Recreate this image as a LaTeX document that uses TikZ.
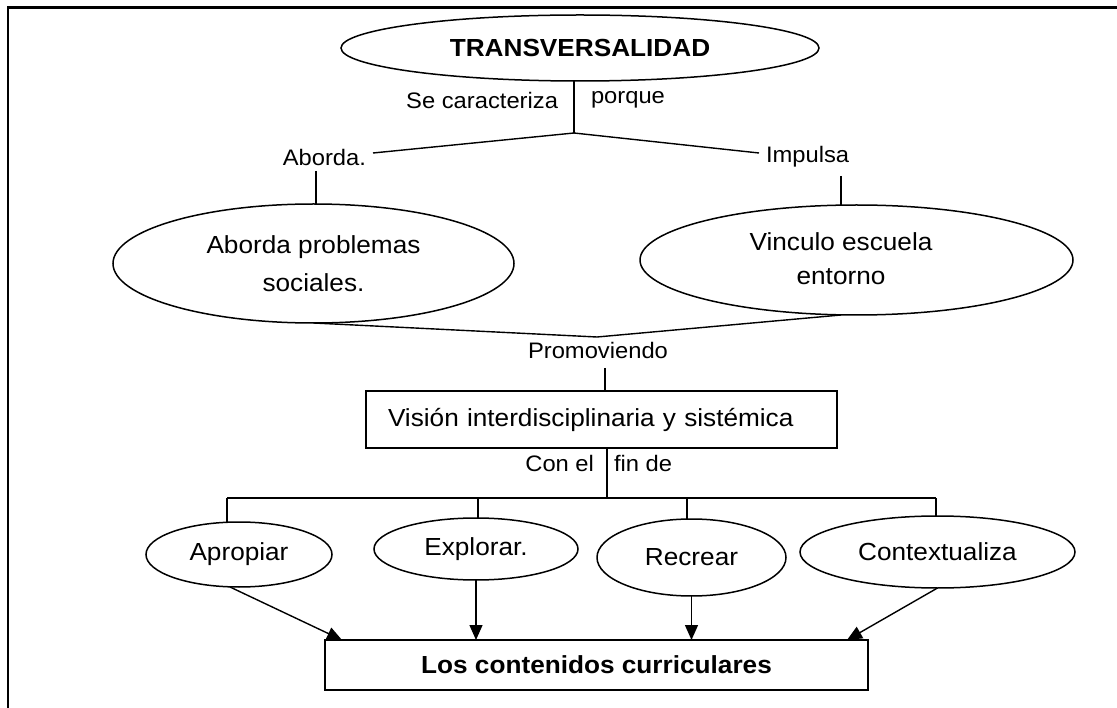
\documentclass[tikz,border=0pt]{standalone}
\usepackage{fontspec}
\setmainfont{Liberation Sans}[FakeStretch=1.06]
\usetikzlibrary{shapes.geometric,arrows.meta}
\begin{document}
\begin{tikzpicture}[x=1pt,y=-1pt,
  every node/.style={inner sep=0pt, outer sep=0pt},
  oval/.style={draw, ellipse, line width=1.5pt, inner sep=0pt},
  rbox/.style={draw, rectangle, line width=1.5pt},
  lbl/.style={font=\fontsize{22.4}{26}\selectfont},
  main/.style={font=\fontsize{24.7}{29}\selectfont},
  mainb/.style={font=\fontsize{24.7}{29}\selectfont\bfseries},
  conn/.style={line width=1.4pt},
  arr/.style={line width=1.4pt, -{Triangle[length=15pt,width=13pt]}},
]
\useasboundingbox (0,0) rectangle (1117,708);
\draw[line width=2.2pt] (1117,7.5) -- (8,7.5) -- (8,708);

% top
\node[oval, mainb, minimum width=478, minimum height=66] (T) at (580,48) {TRANSVERSALIDAD};
\coordinate (j1) at (574,133);
\draw[conn] (j1 |- T.south) -- (j1);
\node[lbl, anchor=east] (sc) at (558,100) {Se caracteriza};
\node[lbl, anchor=west] (pq) at (591,100) {porque};
\node[lbl, anchor=east] (ab) at (366,157) {Aborda.};
\node[lbl, anchor=west] (im) at (766,157) {Impulsa};
\coordinate (abR) at (373,153);
\coordinate (imL) at (759,153);
\draw[conn] (abR) -- (j1) -- (imL);

% second level
\node[oval, align=center, font=\fontsize{24.7}{38}\selectfont, minimum width=401, minimum height=119] (A) at (313.5,263.5) {Aborda problemas\\sociales.};
\node[oval, minimum width=433, minimum height=110] (V) at (856.5,260) {};
\node[align=center, font=\fontsize{24.7}{34}\selectfont] (Vt) at (841,259) {Vinculo escuela\\entorno};
\coordinate (atop) at (316,171);
\coordinate (vtop) at (841,176);
\draw[conn] (atop) -- (atop |- A.north);
\draw[conn] (vtop) -- (vtop |- V.north);

\coordinate (jP) at (597,337);
\draw[conn] (A.south) -- (jP) -- (Vt |- V.south);
\node[lbl] (pr) at (598,350) {Promoviendo};

% box
\node[rbox, main, anchor=west, minimum height=57, inner xsep=22pt, text width=427pt] (B) at (366,419.5) {Visión interdisciplinaria y sistémica};
\coordinate (p2) at (605,368);
\draw[conn] (p2) -- (p2 |- B.north);
\coordinate (c1) at (607,498);
\draw[conn] (B.south -| c1) -- (c1);
\node[lbl, anchor=east] (ce) at (594,463) {Con el};
\node[lbl, anchor=west] (fd) at (614,463) {fin de};

% bottom ellipses
\node[oval, main, minimum width=186, minimum height=65] (Ap) at (239,554.5) {Apropiar};
\node[oval, main, minimum width=204, minimum height=62] (Ex) at (476,549) {Explorar.};
\node[oval, main, minimum width=189, minimum height=77] (Re) at (691.5,557.5) {Recrear};
\node[oval, main, minimum width=275, minimum height=72] (Co) at (937.5,552) {Contextualiza};

\coordinate (bL) at (227,498);
\coordinate (t2) at (478,498);
\coordinate (t3) at (687,498);
\coordinate (bR) at (936,498);
\draw[conn] (bL) -- (bR);
\draw[conn] (bL) -- (bL |- Ap.north);
\draw[conn] (t2) -- (t2 |- Ex.north);
\draw[conn] (t3) -- (t3 |- Re.north);
\draw[conn] (bR) -- (bR |- Co.north);

% final box
\node[rbox, mainb, minimum width=543, minimum height=50] (L) at (596.5,665) {Los contenidos curriculares};
\coordinate (a1) at (342,640);
\coordinate (a4) at (847,640);
\draw[arr] ([xshift=-9pt]Ap.south) -- (a1);
\draw[arr] (Ex.south) -- (Ex.south |- L.north);
\draw[arr] (Re.south) -- (Re.south |- L.north);
\draw[arr] (Co.south) -- (a4);
\end{tikzpicture}
\end{document}
